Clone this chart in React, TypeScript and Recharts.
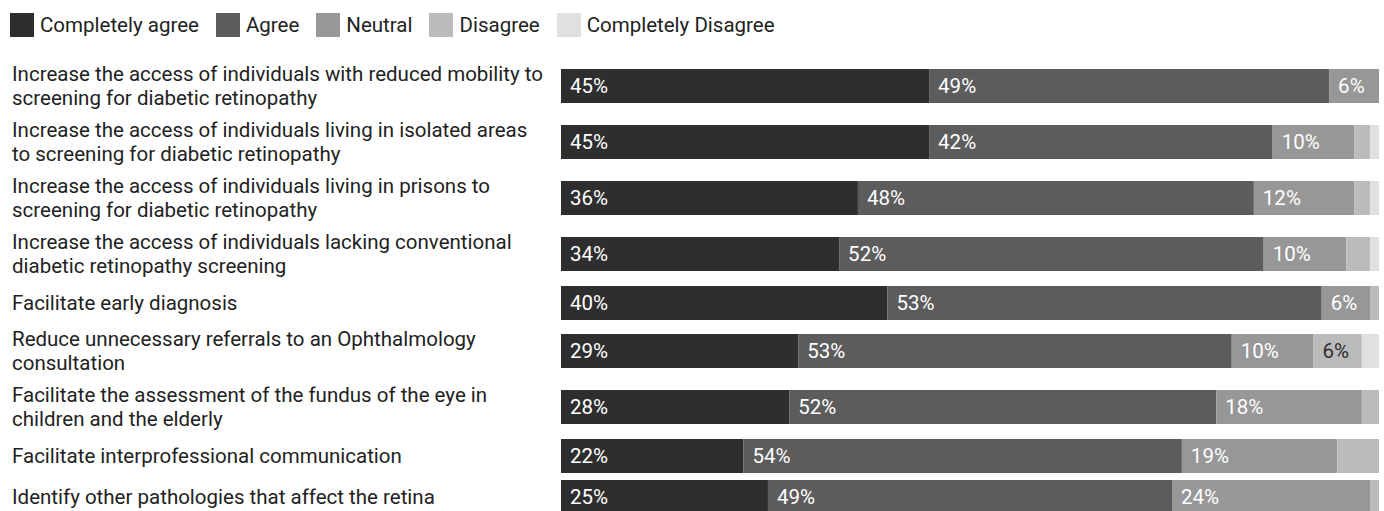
import React from "react";
import { Bar, BarChart, LabelList, XAxis, YAxis } from "recharts";

// statements shown on the left, "\n" marks where the label wraps
const categories = [
  "Increase the access of individuals with reduced mobility to\nscreening for diabetic retinopathy",
  "Increase the access of individuals living in isolated areas\nto screening for diabetic retinopathy",
  "Increase the access of individuals living in prisons to\nscreening for diabetic retinopathy",
  "Increase the access of individuals lacking conventional\ndiabetic retinopathy screening",
  "Facilitate early diagnosis",
  "Reduce unnecessary referrals to an Ophthalmology\nconsultation",
  "Facilitate the assessment of the fundus of the eye in\nchildren and the elderly",
  "Facilitate interprofessional communication",
  "Identify other pathologies that affect the retina",
];

// share of answers (%) per statement
const completelyAgree = [45.0, 45.0, 36.3, 34.0, 39.9, 29.0, 27.9, 22.3, 25.3];
const agree = [48.9, 42.0, 48.4, 51.9, 53.1, 53.0, 52.2, 53.6, 49.4];
const neutral = [6.1, 10.0, 12.3, 10.1, 5.9, 10.0, 17.8, 19.0, 24.2];
const disagree = [0, 1.9, 1.9, 2.9, 1.1, 5.9, 2.1, 5.1, 1.1];
const completelyDisagree = [0, 1.1, 1.1, 1.1, 0, 2.1, 0, 0, 0];

const series = [
  { key: "ca", name: "Completely agree", color: "#2e2e2e", text: "#ffffff" },
  { key: "a", name: "Agree", color: "#5c5c5c", text: "#ffffff" },
  { key: "n", name: "Neutral", color: "#979797", text: "#ffffff" },
  { key: "d", name: "Disagree", color: "#bbbbbb", text: "#2e2e2e" },
  { key: "cd", name: "Completely Disagree", color: "#e0e0e0", text: "#2e2e2e" },
];

const data = categories.map((name, i) => ({
  name,
  ca: completelyAgree[i],
  a: agree[i],
  n: neutral[i],
  d: disagree[i],
  cd: completelyDisagree[i],
}));

const FONT = "Roboto, sans-serif";
const FONT_SIZE = 20.5;
const LINE_HEIGHT = 24;

const CategoryTick = (props: any) => {
  const { y, payload } = props;
  const lines: string[] = String(payload.value).split("\n");
  return (
    <text x={12} y={y} fill="#222" fontSize={FONT_SIZE} fontFamily={FONT} textAnchor="start">
      {lines.map((line, i) => (
        <tspan key={i} x={12} y={y + (i - (lines.length - 1) / 2) * LINE_HEIGHT} dy="0.35em">
          {line}
        </tspan>
      ))}
    </text>
  );
};

const makeLabel = (color: string) => (props: any) => {
  const { x, y, height, value } = props;
  if (value == null || value < 5.5) return null;
  return (
    <text
      x={x + 9}
      y={y + height / 2}
      dy="0.35em"
      fill={color}
      fontSize={FONT_SIZE}
      fontFamily={FONT}
      textAnchor="start"
    >
      {Math.round(value)}%
    </text>
  );
};

const LegendRow = () => (
  <div
    style={{
      position: "absolute",
      left: 10,
      top: 13,
      display: "flex",
      alignItems: "center",
      fontFamily: FONT,
      fontSize: FONT_SIZE,
      color: "#222",
      lineHeight: "24px",
    }}
  >
    {series.map((s) => (
      <div key={s.key} style={{ display: "flex", alignItems: "center", marginRight: 17 }}>
        <span style={{ width: 24, height: 24, background: s.color, display: "inline-block", marginRight: 6 }} />
        <span>{s.name}</span>
      </div>
    ))}
  </div>
);

// one row per statement; two-line labels make the row taller, as in a table layout
const StatementRow = ({ row }: { row: (typeof data)[number] }) => {
  const lines = row.name.split("\n").length;
  const height = lines > 1 ? 56 : 41;
  return (
    <BarChart
      width={1384}
      height={height}
      data={[row]}
      layout="vertical"
      margin={{ top: 0, right: 5, bottom: 0, left: 0 }}
      barSize={34}
    >
      <XAxis type="number" domain={[0, 100]} hide />
      <YAxis
        type="category"
        dataKey="name"
        width={561}
        axisLine={false}
        tickLine={false}
        interval={0}
        tick={<CategoryTick />}
      />
      {series.map((s) => (
        <Bar key={s.key} dataKey={s.key} name={s.name} stackId="all" fill={s.color} isAnimationActive={false}>
          <LabelList dataKey={s.key} content={makeLabel(s.text)} />
        </Bar>
      ))}
    </BarChart>
  );
};

export default function App() {
  return (
    <div
      style={{
        position: "absolute",
        left: 0,
        top: 0,
        width: 1384,
        height: 511,
        overflow: "hidden",
        background: "#fff",
      }}
    >
      <LegendRow />
      <div style={{ position: "absolute", left: 0, top: 58, display: "flex", flexDirection: "column" }}>
        {data.map((row) => (
          <StatementRow key={row.name} row={row} />
        ))}
      </div>
    </div>
  );
}
